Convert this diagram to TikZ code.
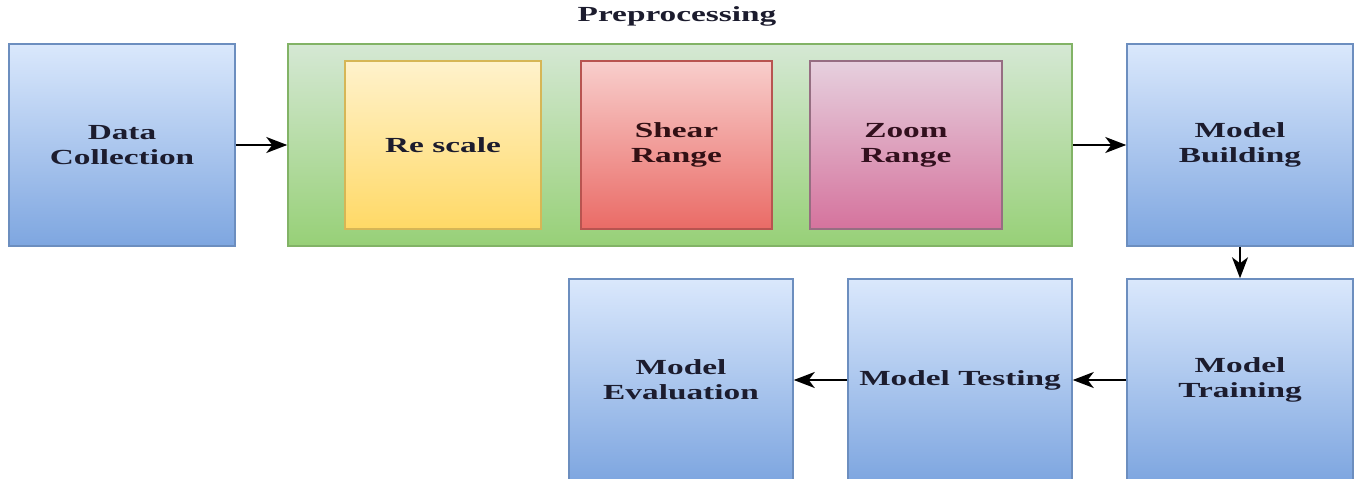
\documentclass[tikz,border=0pt]{standalone}
\usepackage{fontspec}
\setmainfont{Liberation Serif}[FakeStretch=1.55]
\usetikzlibrary{arrows.meta}
\definecolor{txt}{HTML}{1C1C2E}
\definecolor{bD}{HTML}{6C8EBF}\definecolor{bT}{HTML}{DAE8FC}\definecolor{bB}{HTML}{7EA6E0}
\definecolor{gD}{HTML}{82B366}\definecolor{gT}{HTML}{D5E8D4}\definecolor{gB}{HTML}{97D077}
\definecolor{yD}{HTML}{D6B656}\definecolor{yT}{HTML}{FFF2CC}\definecolor{yB}{HTML}{FFD966}
\definecolor{rD}{HTML}{B85450}\definecolor{rT}{HTML}{F8CECC}\definecolor{rB}{HTML}{EA6B66}
\definecolor{pD}{HTML}{966E82}\definecolor{pT}{HTML}{E6D0DE}\definecolor{pB}{HTML}{D5739D}
\definecolor{rtxt}{HTML}{321014}\definecolor{ptxt}{HTML}{32101E}
\begin{document}
\begin{tikzpicture}[x=1pt,y=-1pt,
  lbl/.style={font=\fontsize{21.5}{25}\selectfont\bfseries, text=txt, align=center, inner sep=0pt},
  blk/.style={lbl, draw=#1, line width=1.5pt},
  bluebox/.style={blk=bD, top color=bT, bottom color=bB, minimum width=226pt, minimum height=202pt},
  arr/.style={line width=1.9pt, -{Stealth[length=21pt,width=16pt,inset=6pt]}}
]
\useasboundingbox (0,0) rectangle (1357,479);
\node[bluebox] (dc) at (122,145) {Data\\Collection};
\node[draw=gD, line width=1.5pt, top color=gT, bottom color=gB, minimum width=784pt, minimum height=202pt] (pre) at (680,145) {};
\node[lbl] (prelbl) at (677,16) {Preprocessing};
\node[blk=yD, top color=yT, bottom color=yB, minimum width=196pt, minimum height=168pt] (rs) at (443,145) {Re scale};
\node[blk=rD, top color=rT, bottom color=rB, minimum width=191pt, minimum height=168pt, text=rtxt] (sr) at (676.5,145) {Shear\\Range};
\node[blk=pD, top color=pT, bottom color=pB, minimum width=192pt, minimum height=168pt, text=ptxt] (zr) at (906,145) {Zoom\\Range};
\node[bluebox] (mb) at (1240,145) {Model\\Building};
\node[bluebox] (mt) at (1240,380) {Model\\Training};
\node[bluebox, minimum width=224pt] (mtest) at (960,380) {Model Testing};
\node[bluebox, minimum width=224pt] (meval) at (681,380) {Model\\Evaluation};
\draw[arr] (dc.east) -- (pre.west);
\draw[arr] (pre.east) -- (mb.west);
\draw[arr] (mb.south) -- (mt.north);
\draw[arr] (mt.west) -- (mtest.east);
\draw[arr] (mtest.west) -- (meval.east);
\end{tikzpicture}
\end{document}
